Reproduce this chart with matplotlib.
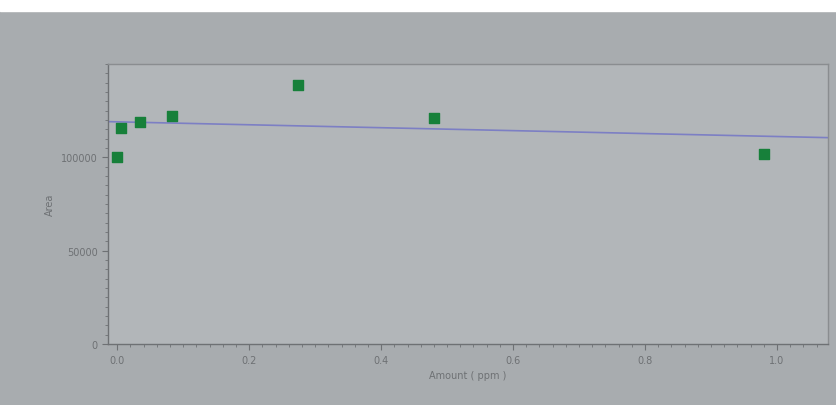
import numpy as np
import matplotlib
matplotlib.use('Agg')
import matplotlib.pyplot as plt
from matplotlib.ticker import AutoMinorLocator
from matplotlib.patches import Rectangle

# valores (calibracao)
amount = [0.0, 0.005, 0.035, 0.083, 0.274, 0.48, 0.98]
area = [100000, 115500, 119000, 122000, 139000, 121000, 102000]
x_ticks = [0.0, 0.2, 0.4, 0.6, 0.8, 1.0]
x_labels = ['0.0', '0.2', '0.4', '0.6', '0.8', '1.0']
y_ticks = [0, 50000, 100000]
y_labels = ['0', '50000', '100000']

# ajuste linear
coef = np.polyfit(amount, area, 1)
xl = np.array([-0.014, 1.077])

fig = plt.figure(figsize=(8.37, 4.06), dpi=100, facecolor='#a8acaf')
fig.patches.append(Rectangle((0, 0.97), 1, 0.03, transform=fig.transFigure,
                             color='white', zorder=0))
ax = fig.add_axes([0.129, 0.15, 0.86, 0.69])
ax.set_facecolor('#b2b6b9')

ax.plot(xl, np.polyval(coef, xl), color='#7c7fc4', lw=1.2, zorder=2)
ax.scatter(amount, area, marker='s', s=55, color='#17803a', zorder=3)

ax.set_xlim(-0.014, 1.077)
ax.set_ylim(0, 150000)
ax.set_xticks(x_ticks)
ax.set_xticklabels(x_labels)
ax.set_yticks(y_ticks)
ax.set_yticklabels(y_labels)
ax.xaxis.set_minor_locator(AutoMinorLocator(10))
ax.yaxis.set_minor_locator(AutoMinorLocator(10))
ax.tick_params(colors='#6e7174', labelsize=7, length=4, width=0.8)
ax.tick_params(which='minor', colors='#6e7174', length=2, width=0.6)
for s in ax.spines.values():
    s.set_color('#6e7174')
    s.set_linewidth(1)
ax.spines['top'].set_color('#8a8d90')
ax.spines['right'].set_color('#8a8d90')

ax.set_xlabel('Amount ( ppm )', fontsize=7, color='#6e7174')
ax.set_ylabel('Area', fontsize=7, color='#6e7174')

fig.savefig('out.png', dpi=100, facecolor=fig.get_facecolor())
